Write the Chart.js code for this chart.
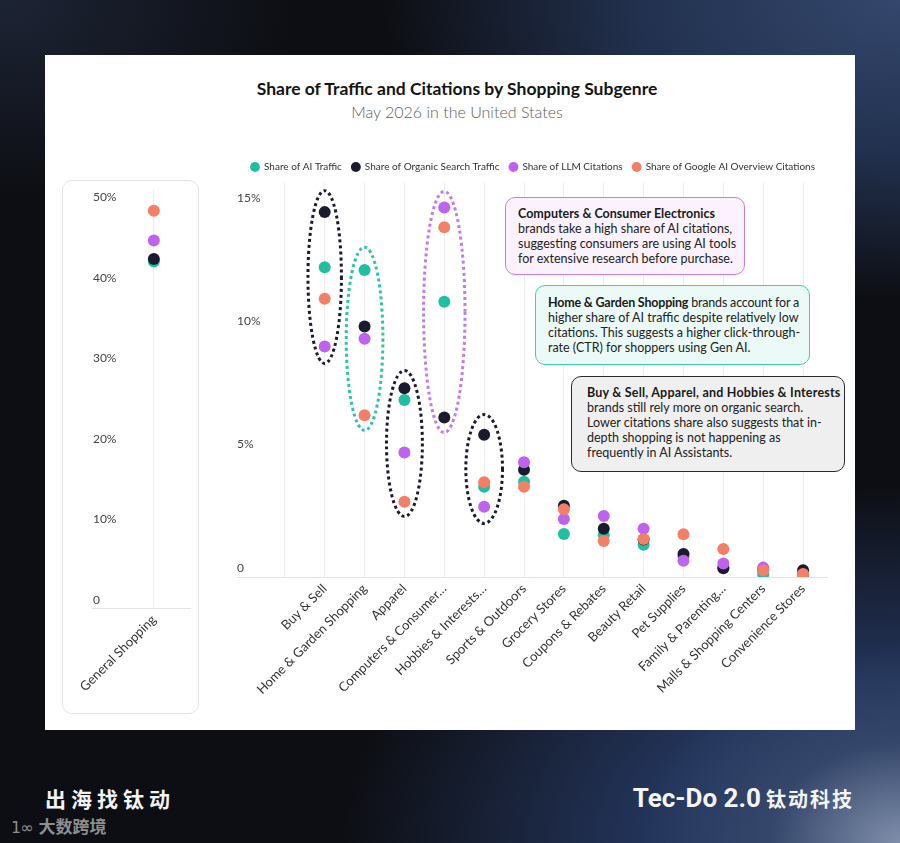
<!DOCTYPE html>
<html>
<head>
<meta charset="utf-8">
<script src="https://cdn.jsdelivr.net/npm/chart.js@4.4.1/dist/chart.umd.min.js"></script>
<style>
  html, body { margin: 0; padding: 0; }
  body {
    width: 900px; height: 843px; position: relative; overflow: hidden;
    font-family: Lato, sans-serif;
    background:
      radial-gradient(ellipse 260px 200px at 900px 843px, #7f8eaa 0%, rgba(60,78,112,0.6) 50%, rgba(13,14,19,0) 100%),
      radial-gradient(ellipse 560px 360px at 900px 843px, #2f426a 0%, #23345a 45%, rgba(13,14,19,0) 100%),
      radial-gradient(ellipse 520px 300px at 900px 0px, #34476c 0%, #22314f 50%, rgba(13,14,19,0) 100%),
      radial-gradient(ellipse 300px 200px at 0px 0px, #1d2435 0%, rgba(13,14,19,0) 100%),
      #0d0e13;
  }
  #card { position: absolute; left: 45px; top: 55px; width: 810px; height: 675px; background: #fff; }
  #title { position: absolute; left: 157px; top: 77px; width: 600px; text-align: center;
           font-size: 17.5px; font-weight: 700; color: #141414; line-height: 24px; }
  #subtitle { position: absolute; left: 157px; top: 101px; width: 600px; text-align: center;
              font-size: 16px; font-weight: 300; color: #5e5e5e; line-height: 22px; }
  #leftBox { position: absolute; left: 62px; top: 180px; width: 135px; height: 532px;
             border: 1px solid #e4e4e4; border-radius: 10px; }
  #leftWrap { position: absolute; left: 62px; top: 180px; width: 137px; height: 534px; }
  #mainWrap { position: absolute; left: 205px; top: 148px; width: 650px; height: 582px; }
  .note { position: absolute; box-sizing: border-box; font-size: 12.5px; line-height: 15px;
          color: #222; border-radius: 10px; white-space: nowrap; }
  .note b { font-weight: 700; color: #1a1a1a; }
  .tight { letter-spacing: -0.2px; }
  .wide { letter-spacing: 0.2px; }
  #n1 { left: 505px; top: 197px; width: 240px; height: 78px; border: 1.5px solid #c57fe0;
        background: #fbf2fd; padding: 8px 0 0 12px; }
  #n2 { left: 535px; top: 285px; width: 275px; height: 80px; border: 1.5px solid #3fcdb4;
        background: #ebfaf7; padding: 9px 0 0 12px; }
  #n3 { left: 571px; top: 376px; width: 274px; height: 96px; border: 1.5px solid #2a2a2a;
        background: #efefef; padding: 8px 0 0 15px; }
  #foot1 { position: absolute; left: 45px; top: 784px; font-family: "Noto Sans CJK SC", sans-serif;
           font-size: 21px; font-weight: 700; letter-spacing: 5px; color: #f2f2f2; line-height: 28px; }
  #foot2 { position: absolute; left: 11px; top: 814px; font-family: "Noto Sans CJK SC", sans-serif;
           font-size: 17px; font-weight: 700; color: #8e8e8e; line-height: 24px; }
  #foot2 span { font-family: "DejaVu Sans", sans-serif; font-size: 16px; font-weight: 400; margin-right: 6px; letter-spacing: -1px; }
  #foot3 { position: absolute; right: 46px; top: 782px; color: #f4f4f4; line-height: 32px; white-space: nowrap; }
  #foot3 .en { font-family: Roboto, sans-serif; font-size: 26px; font-weight: 700; }
  #foot3 .cn { font-family: "Noto Sans CJK SC", sans-serif; font-size: 20px; font-weight: 700; letter-spacing: 2px; margin-left: 5px; }
</style>
</head>
<body>
<div id="card"></div>
<div id="title">Share of Traffic and Citations by Shopping Subgenre</div>
<div id="subtitle">May 2026 in the United States</div>
<div id="leftBox"></div>
<div id="leftWrap"><canvas id="leftChart"></canvas></div>
<div id="mainWrap"><canvas id="mainChart"></canvas></div>

<div class="note" id="n1"><b>Computers &amp; Consumer Electronics</b><br>brands take a high share of AI citations,<br>suggesting consumers are using AI tools<br>for extensive research before purchase.</div>
<div class="note" id="n2"><span class="tight"><b>Home &amp; Garden Shopping</b> brands account for a</span><br>higher share of AI traffic despite relatively low<br>citations. This suggests a higher click-through-<br>rate (CTR) for shoppers using Gen AI.</div>
<div class="note" id="n3"><b class="wide">Buy &amp; Sell, Apparel, and Hobbies &amp; Interests</b><br>brands still rely more on organic search.<br>Lower citations share also suggests that in-<br>depth shopping is not happening as<br>frequently in AI Assistants.</div>

<div id="foot1">出海找钛动</div>
<div id="foot2"><span>1∞</span>大数跨境</div>
<div id="foot3"><span class="en">Tec-Do 2.0</span><span class="cn">钛动科技</span></div>

<script>
// values in percent
const subgenres = ['Buy & Sell', 'Home & Garden Shopping', 'Apparel', 'Computers & Consumer…',
  'Hobbies & Interests…', 'Sports & Outdoors', 'Grocery Stores', 'Coupons & Rebates',
  'Beauty Retail', 'Pet Supplies', 'Family & Parenting…', 'Malls & Shopping Centers', 'Convenience Stores'];
const aiTraffic      = [12.55, 12.44, 7.17, 11.15, 3.66, 3.86, 1.74, 1.70, 1.31, 0.82, 0.40, 0.11, 0.10];
const organicTraffic = [14.78, 10.15, 7.65, 6.46, 5.76, 4.34, 2.89, 1.95, 1.52, 0.93, 0.35, 0.30, 0.27];
const llmCitations   = [9.34, 9.65, 5.04, 14.97, 2.85, 4.65, 2.35, 2.47, 1.95, 0.66, 0.55, 0.38, 0.10];
const aioCitations   = [11.27, 6.55, 3.05, 14.17, 3.84, 3.66, 2.74, 1.46, 1.54, 1.73, 1.13, 0.26, 0.12];

const generalCategory = ['General Shopping'];
const generalAiTraffic = [43.0];
const generalOrganicTraffic = [43.3];
const generalLlmCitations = [45.6];
const generalAioCitations = [49.3];

const mainTicks = [0, 5, 10, 15];
const generalTicks = [0, 10, 20, 30, 40, 50];

const seriesNames = ['Share of AI Traffic', 'Share of Organic Search Traffic',
  'Share of LLM Citations', 'Share of Google AI Overview Citations'];
const seriesColors = ['#20bfa2', '#1a1b2e', '#c062f0', '#f47f67'];

// dotted rings drawn round some columns: column, top value, bottom value
const rings = [
  { col: 1, top: 15.65, bottom: 8.65, rx: 0.42, color: '#1a1b2e' },
  { col: 2, top: 13.36, bottom: 5.94, rx: 0.46, color: '#2cc4a9' },
  { col: 3, top: 8.36, bottom: 2.45, rx: 0.45, color: '#1a1b2e' },
  { col: 4, top: 15.62, bottom: 5.85, rx: 0.52, color: '#c47ae8' },
  { col: 5, top: 6.58, bottom: 2.17, rx: 0.46, color: '#1a1b2e' }
];

const FONT = 'Lato';
const pct = v => (v === 0 ? '0' : v + '%');

function toPoints(values, offset) {
  return values.map((v, i) => ({ x: i + offset, y: v }));
}

function makeDatasets(lists, offset) {
  // orange drawn on top, teal at the bottom
  return lists.map((vals, i) => ({
    label: seriesNames[i],
    data: toPoints(vals, offset),
    backgroundColor: seriesColors[i],
    borderWidth: 0,
    pointRadius: 6,
    pointHoverRadius: 6,
    order: lists.length - i
  }));
}

const ringPlugin = {
  id: 'rings',
  beforeDatasetsDraw(chart) {
    const { ctx, scales: { x, y } } = chart;
    ctx.save();
    ctx.lineWidth = 3;
    ctx.setLineDash([3, 3]);
    rings.forEach(r => {
      const cx = x.getPixelForValue(r.col);
      const top = y.getPixelForValue(r.top);
      const bot = y.getPixelForValue(r.bottom);
      const rx = x.getPixelForValue(r.col + r.rx) - cx;
      ctx.strokeStyle = r.color;
      ctx.beginPath();
      ctx.ellipse(cx, (top + bot) / 2, rx, (bot - top) / 2, 0, 0, Math.PI * 2);
      ctx.stroke();
    });
    ctx.restore();
  }
};

new Chart(document.getElementById('mainChart'), {
  type: 'scatter',
  data: { datasets: makeDatasets([aiTraffic, organicTraffic, llmCitations, aioCitations], 1) },
  plugins: [ringPlugin],
  options: {
    responsive: true,
    maintainAspectRatio: false,
    animation: false,
    layout: { padding: { left: 6, right: 0, top: 4, bottom: 0 } },
    plugins: {
      tooltip: { enabled: false },
      legend: {
        display: true,
        position: 'top',
        labels: {
          usePointStyle: true,
          pointStyle: 'circle',
          boxWidth: 8,
          boxHeight: 7,
          padding: 10,
          color: '#333',
          font: { family: FONT, size: 10 },
          sort: (a, b) => a.datasetIndex - b.datasetIndex
        }
      }
    },
    scales: {
      x: {
        type: 'linear',
        min: -1.2,
        max: 13.6,
        afterBuildTicks: s => { s.ticks = [...Array(subgenres.length + 1).keys()].map(v => ({ value: v })); },
        afterFit: s => { s.height = 153; },
        ticks: {
          autoSkip: false,
          minRotation: 45,
          maxRotation: 45,
          padding: 4,
          color: '#333',
          font: { family: FONT, size: 13 },
          callback: v => subgenres[v - 1] || ''
        },
        grid: { color: '#eeeeee', drawTicks: false },
        border: { display: true, color: '#e4e4e4' }
      },
      y: {
        min: 0,
        max: 16,
        afterBuildTicks: s => { s.ticks = mainTicks.map(v => ({ value: v })); },
        afterFit: s => { s.width = 26; },
        ticks: {
          mirror: true,
          padding: 0,
          labelOffset: -9,
          color: '#444',
          font: { family: FONT, size: 12 },
          callback: pct
        },
        grid: { display: false, drawTicks: false },
        border: { display: false }
      },
      // empty strip on the right, keeps the plot off the card edge
      yRight: {
        position: 'right',
        afterFit: s => { s.width = 28; },
        ticks: { display: false },
        grid: { display: false, drawTicks: false },
        border: { display: false }
      }
    }
  }
});

new Chart(document.getElementById('leftChart'), {
  type: 'scatter',
  data: { datasets: makeDatasets([generalAiTraffic, generalOrganicTraffic, generalLlmCitations, generalAioCitations], 0) },
  options: {
    responsive: true,
    maintainAspectRatio: false,
    animation: false,
    layout: { padding: { left: 26, right: 9, top: 9, bottom: 0 } },
    plugins: { tooltip: { enabled: false }, legend: { display: false } },
    scales: {
      x: {
        type: 'linear',
        min: -1.6,
        max: 0.95,
        afterBuildTicks: s => { s.ticks = generalCategory.map((c, i) => ({ value: i })); },
        afterFit: s => { s.height = 106; },
        ticks: {
          autoSkip: false,
          minRotation: 45,
          maxRotation: 45,
          padding: 4,
          color: '#333',
          font: { family: FONT, size: 13 },
          callback: v => generalCategory[v] || ''
        },
        grid: { color: '#eeeeee', drawTicks: false },
        border: { display: true, color: '#e4e4e4' }
      },
      y: {
        min: 0,
        max: 52,
        afterBuildTicks: s => { s.ticks = generalTicks.map(v => ({ value: v })); },
        ticks: {
          mirror: true,
          padding: 0,
          labelOffset: -8,
          color: '#444',
          font: { family: FONT, size: 12 },
          callback: pct
        },
        grid: { display: false, drawTicks: false },
        border: { display: false }
      }
    }
  }
});
</script>
</body>
</html>
